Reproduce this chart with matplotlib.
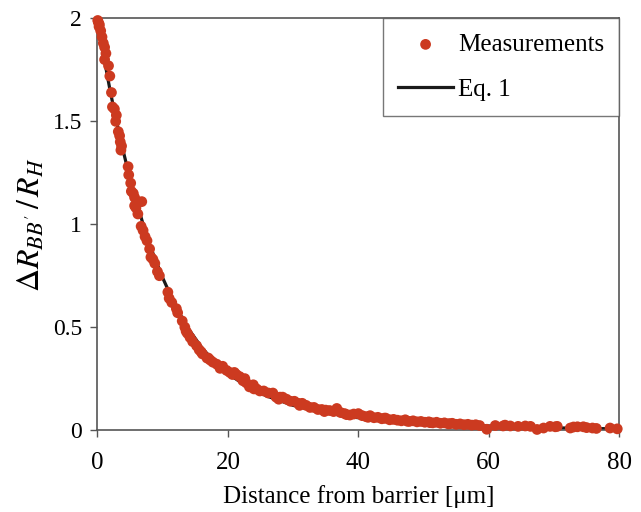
import matplotlib
matplotlib.use("Agg")
import matplotlib.pyplot as plt
from matplotlib.ticker import FixedLocator, FuncFormatter

# Eq. 1 curve
curve_x = [0, 1, 2, 3, 4, 5, 6, 7, 8, 9, 10, 12, 14, 16, 18, 20, 23, 26, 30,
           34, 38, 42, 46, 50, 55, 60, 65, 70, 75, 80]
curve_y = [2.0, 1.81, 1.64, 1.49, 1.35, 1.22, 1.11, 1.0, 0.9, 0.82, 0.74, 0.6,
           0.49, 0.40, 0.33, 0.275, 0.21, 0.165, 0.12, 0.09, 0.068, 0.052,
           0.042, 0.034, 0.026, 0.02, 0.015, 0.011, 0.008, 0.006]

# measurements
meas_x = [0.05, 0.15, 0.3, 0.25, 0.5, 0.7, 0.9, 1.1, 1.3, 1.1, 1.7, 1.9, 2.15,
          2.3, 2.6, 2.9, 2.8, 3.2, 3.4, 3.5, 3.7, 3.6, 4.7, 4.8, 5.1, 5.2, 5.5,
          5.7, 6.8, 5.7, 5.9, 6.2, 6.7, 7.0, 7.3, 7.6, 8.0, 8.2, 8.5, 8.8, 9.2,
          9.5, 10.8, 11.0, 11.4, 12.1, 12.3, 13.0, 13.4, 13.6, 13.8, 14.2, 14.6,
          15.2, 15.6, 16.1, 16.8, 17.3, 17.7, 18.3, 19.2, 19.8, 20.3, 20.7,
          21.3, 21.8, 22.3, 22.6, 22.8, 23.3, 23.9, 24.4, 24.9, 25.5, 26.2,
          26.9, 27.4, 28.0, 28.4, 29.0, 29.6, 30.2, 30.8, 31.4, 32.0, 32.6,
          33.2, 33.8, 34.4, 35.0, 35.6, 36.2, 36.7, 37.3, 37.9, 38.7, 39.3,
          40.0, 40.6, 41.2, 41.8, 42.4, 43.0, 43.6, 44.2, 44.8, 45.4, 46.0,
          46.6, 47.2, 47.8, 48.4, 49.0, 49.6, 50.2, 50.8, 51.4, 52.0, 52.6,
          53.2, 53.8, 54.4, 55.0, 55.6, 56.2, 56.8, 57.4, 58.0, 58.6, 59.7,
          61.0, 62.2, 62.5, 63.3, 64.5, 65.6, 66.4, 67.4, 68.4, 69.4, 70.2,
          70.5, 72.5, 73.0, 73.6, 74.5, 75.0, 75.9, 76.5, 78.6, 79.7,
          15.9, 17.0, 18.8, 21.0, 24.0, 27.8, 31.0, 34.8, 38.2, 41.5, 44.0,
          47.5, 51.0, 54.0]
meas_y = [1.99, 1.98, 1.97, 1.96, 1.94, 1.91, 1.88, 1.86, 1.83, 1.80, 1.77,
          1.72, 1.64, 1.57, 1.56, 1.53, 1.50, 1.45, 1.43, 1.40, 1.38, 1.36,
          1.28, 1.24, 1.20, 1.16, 1.15, 1.13, 1.11, 1.09, 1.08, 1.05, 0.99,
          0.97, 0.94, 0.92, 0.88, 0.84, 0.83, 0.81, 0.77, 0.75, 0.67, 0.64,
          0.62, 0.59, 0.57, 0.53, 0.50, 0.48, 0.47, 0.45, 0.43, 0.41, 0.39,
          0.37, 0.35, 0.34, 0.33, 0.32, 0.31, 0.29, 0.28, 0.27, 0.27, 0.26,
          0.24, 0.25, 0.23, 0.21, 0.22, 0.20, 0.19, 0.19, 0.18, 0.18, 0.16,
          0.16, 0.16, 0.15, 0.14, 0.14, 0.13, 0.13, 0.12, 0.11, 0.11, 0.10,
          0.10, 0.097, 0.095, 0.090, 0.105, 0.085, 0.080, 0.073, 0.078, 0.080,
          0.070, 0.065, 0.070, 0.060, 0.062, 0.055, 0.058, 0.050, 0.052, 0.048,
          0.045, 0.050, 0.042, 0.045, 0.040, 0.042, 0.038, 0.040, 0.035, 0.038,
          0.033, 0.035, 0.030, 0.033, 0.028, 0.030, 0.026, 0.028, 0.024, 0.026,
          0.022, 0.004, 0.022, 0.020, 0.024, 0.020, 0.018, 0.020, 0.018, 0.003,
          0.010, 0.018, 0.016, 0.018, 0.010, 0.015, 0.016, 0.016, 0.012, 0.010,
          0.008, 0.010, 0.006,
          0.38, 0.35, 0.30, 0.28, 0.20, 0.15, 0.12, 0.09, 0.075, 0.062, 0.058,
          0.043, 0.036, 0.031]

x_ticks = [0, 20, 40, 60, 80]
y_ticks = [0, 0.5, 1, 1.5, 2]

plt.rcParams["font.family"] = ["Liberation Serif", "DejaVu Serif"]
plt.rcParams["mathtext.fontset"] = "stix"

fig = plt.figure(figsize=(6.41, 5.12), dpi=100)
ax = fig.add_axes([0.152, 0.160, 0.814, 0.804])

ax.plot(curve_x, curve_y, color="#1a1a1a", linewidth=2.3, label="Eq. 1",
        zorder=2)
ax.scatter(meas_x, meas_y, s=60, color="#cc3a20", edgecolors="none",
           label="Measurements", zorder=3, clip_on=False)

ax.set_xlim(0, 80)
ax.set_ylim(0, 2)
ax.xaxis.set_major_locator(FixedLocator(x_ticks))
ax.yaxis.set_major_locator(FixedLocator(y_ticks))
ax.yaxis.set_major_formatter(FuncFormatter(lambda v, p: f"{v:g}"))
ax.tick_params(axis="both", direction="out", length=5, width=1,
               color="#555555")
ax.tick_params(axis="x", labelsize=18, pad=11)
ax.tick_params(axis="y", labelsize=17, pad=6)

for s in ax.spines.values():
    s.set_color("#555555")
    s.set_linewidth(1.2)

ax.set_xlabel("Distance from barrier [\u03bcm]", fontsize=18, labelpad=8)
ax.set_ylabel(r"$\Delta R_{BB'}\,/\,R_H$", fontsize=23, labelpad=4)

handles, labels = ax.get_legend_handles_labels()
leg = ax.legend(handles[::-1], labels[::-1], loc="upper right",
                borderaxespad=0, fancybox=False, fontsize=18,
                handlelength=2.2, handletextpad=0.2, labelspacing=0.9,
                borderpad=0.6, scatterpoints=1)
leg.get_frame().set_edgecolor("#555555")
leg.get_frame().set_linewidth(1.0)

fig.savefig("out.png", dpi=100)
